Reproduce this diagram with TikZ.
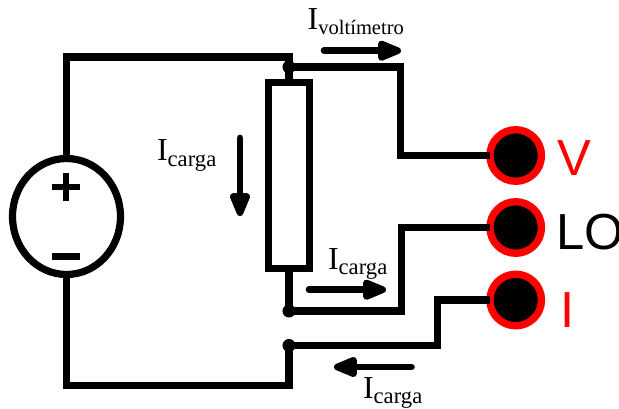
\documentclass[tikz,border=0pt]{standalone}
\usepackage{fontspec}
\setmainfont{Liberation Serif}
\newfontfamily\labsans{Liberation Sans}
\usetikzlibrary{shapes.geometric,arrows.meta}
\newcommand{\curlab}[2][17]{{\fontsize{24}{24}\selectfont I}\raisebox{-4.1pt}{\fontsize{#1}{#1}\selectfont #2}}
\tikzset{
  wire/.style={line width=5.4pt,line join=miter,line cap=butt},
  curarrow/.style={line width=5pt,line cap=round,-{Triangle[length=22pt,width=16pt,round]}},
  junct/.style={circle,fill=black,inner sep=0pt,outer sep=0pt,minimum size=9.8pt},
  term/.style={circle,draw=red,fill=black,line width=5.5pt,inner sep=0pt,outer sep=0pt,minimum size=38.7pt},
  curtext/.style={anchor=base west,inner sep=0pt,outer sep=0pt},
  portblack/.style={anchor=base west,inner sep=0pt,outer sep=0pt,font=\labsans\fontsize{38}{38}\selectfont,text=black},
  portred/.style={portblack,text=red},
  bar/.style={fill=black,inner sep=0pt,outer sep=0pt,minimum width=21pt,minimum height=5.2pt}
}
\begin{document}
\begin{tikzpicture}[x=0.75pt,y=-0.75pt]
\clip (0,0) rectangle (619,408);
% source
\node[ellipse,draw=black,line width=5.4pt,fill=white,inner sep=0pt,outer sep=0pt,minimum width=81pt,minimum height=87pt] (src) at (66.5,216.5) {};
\node[bar] (plush) at (66,187) {};
\node[bar,minimum width=5.2pt,minimum height=21.5pt] (plusv) at (66,187) {};
\node[bar] (minus) at (66,256.7) {};
% load
\node[rectangle,draw=black,line width=5.4pt,fill=white,inner sep=0pt,outer sep=0pt,minimum width=31.1pt,minimum height=139.5pt] (res) at (289,175.5) {};
% junctions
\node[junct] (j1) at (289,67) {};
\node[junct] (j2) at (289,311) {};
\node[junct] (j3) at (289,345.5) {};
% terminals
\node[term] (tv) at (515.7,155.5) {};
\node[term] (tlo) at (515.7,227.5) {};
\node[term] (ti) at (515.7,300) {};
% corner points
\coordinate (tl) at (66.5,57);
\coordinate (tr) at (289,57);
\coordinate (bl) at (66.5,385.5);
\coordinate (br) at (289,385.5);
\coordinate (v1) at (400.5,67);
\coordinate (v2) at (400.5,155.5);
\coordinate (l1) at (401.5,311);
\coordinate (l2) at (401.5,227.5);
\coordinate (i1) at (437.5,345.5);
\coordinate (i2) at (437.5,300);
% wires
\draw[wire] (src.north) -- (tl) -- (tr) -- (j1.center);
\draw[wire] (j1.center) -- (res.north);
\draw[wire] (j1.center) -- (v1) -- (v2) -- (tv.west);
\draw[wire] (res.south) -- (j2.center);
\draw[wire] (j2.center) -- (l1) -- (l2) -- (tlo.west);
\draw[wire] (j3.center) -- (i1) -- (i2) -- (ti.west);
\draw[wire] (src.south) -- (bl) -- (br) -- (j3.center);
% current arrows
\coordinate (a1s) at (324,50.7);
\coordinate (a1e) at (401,50.7);
\coordinate (a2s) at (240,138);
\coordinate (a2e) at (240,216);
\coordinate (a3s) at (309,289.7);
\coordinate (a3e) at (386,289.7);
\coordinate (a4s) at (411.5,367);
\coordinate (a4e) at (334,367);
\draw[curarrow] (a1s) -- (a1e);
\draw[curarrow] (a2s) -- (a2e);
\draw[curarrow] (a3s) -- (a3e);
\draw[curarrow] (a4s) -- (a4e);
% texts
\node[curtext] (lv) at (307.7,29) {\curlab[15.4]{voltímetro}};
\node[curtext] (lc1) at (157,160.7) {\curlab{carga}};
\node[curtext] (lc2) at (328,269) {\curlab{carga}};
\node[curtext] (lc3) at (363,398) {\curlab{carga}};
\node[portred] (pv) at (557,175) {V};
\node[portblack] (plo) at (556,249) {LO};
\node[portred] (pi) at (560,327) {I};
\end{tikzpicture}
\end{document}
